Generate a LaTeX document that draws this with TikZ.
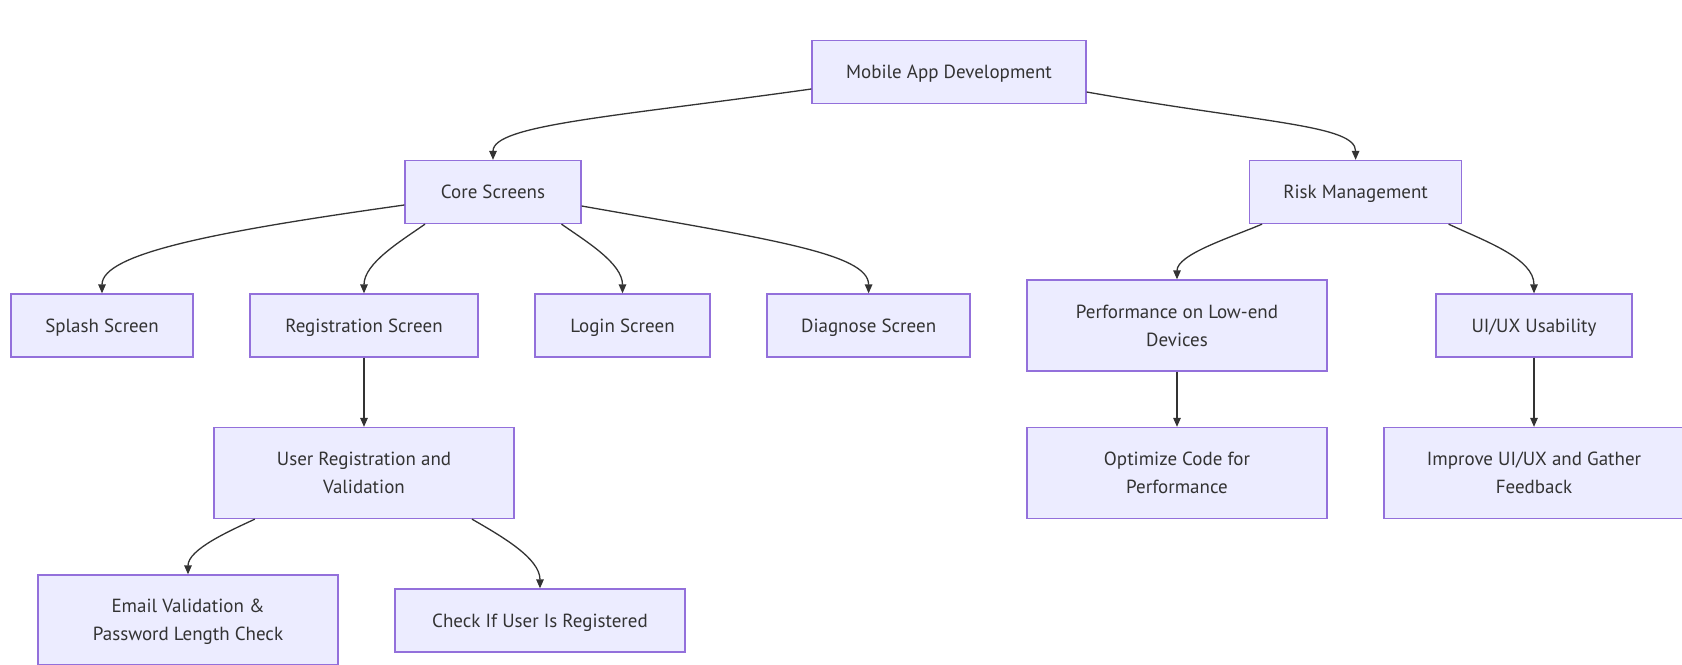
\documentclass[tikz,border=0pt]{standalone}
\usepackage{fontspec}
\setmainfont{PT Sans}
\usetikzlibrary{arrows.meta,calc}
\definecolor{boxfill}{HTML}{ECECFF}
\definecolor{boxline}{HTML}{9370DB}
\definecolor{ink}{HTML}{333333}
% label text with fixed metrics: cap height only, so capitals sit centred
\newcommand{\capht}{\rule{0pt}{13.3bp}}
\newcommand{\oneline}[1]{\smash{#1}\capht}
\newcommand{\twolines}[2]{\vbox{\baselineskip=28bp\lineskiplimit=-100bp
  \halign{\hfil##\hfil\cr\smash{#1}\capht\cr\smash{#2}\cr}}}
\tikzset{
  box/.style={draw=boxline, fill=boxfill, line width=1.3bp, text=ink,
    inner sep=0pt, minimum height=63bp,
    font=\fontsize{19bp}{28bp}\selectfont},
  tall/.style={minimum height=91bp},
  link/.style={draw=ink, line width=1.3bp,
    -{Triangle[length=9bp,width=7.5bp]}},
}
\begin{document}
\begin{tikzpicture}[x=1bp,y=1bp]
\useasboundingbox (0,0) rectangle (1682,-665);
\fill[white] (0,0) rectangle (1682,-665);

% nodes
\node[box, minimum width=274bp] (mob)  at (949,-72)    {\oneline{Mobile App Development}};
\node[box, minimum width=176bp] (core) at (493,-192)   {\oneline{Core Screens}};
\node[box, minimum width=212bp] (risk) at (1355.6,-192){\oneline{Risk Management}};
\node[box, minimum width=182bp] (spl)  at (102,-325.5) {\oneline{Splash Screen}};
\node[box, minimum width=228bp] (reg)  at (364,-325.5) {\oneline{Registration Screen}};
\node[box, minimum width=175bp] (log)  at (622.5,-325.5){\oneline{Login Screen}};
\node[box, minimum width=203bp] (diag) at (868.6,-325.5){\oneline{Diagnose Screen}};
\node[box, tall, minimum width=300bp] (perf) at (1177,-325.5) {\twolines{Performance on Low-end}{Devices}};
\node[box, minimum width=196bp] (ux)   at (1534,-325.5){\oneline{UI/UX Usability}};
\node[box, tall, minimum width=300bp] (urv) at (364,-473) {\twolines{User Registration and}{Validation}};
\node[box, tall, minimum width=300bp] (opt) at (1177,-473) {\twolines{Optimize Code for}{Performance}};
\node[box, tall, minimum width=300bp] (imp) at (1534,-473) {\twolines{Improve UI/UX and Gather}{Feedback}};
\node[box, tall, minimum width=300bp, minimum height=90bp] (email) at (188,-620) {\twolines{Email Validation \&}{Password Length Check}};
\node[box, minimum width=290bp] (chk)  at (540,-620.5) {\oneline{Check If User Is Registered}};

% connectors
\draw[link] ($(mob.west)+(0,-17)$) to[out=188,in=90,out distance=200bp,in distance=35bp] (core.north);
\draw[link] ($(mob.east)+(0,-20)$) to[out=350,in=90,out distance=180bp,in distance=35bp] (risk.north);
\draw[link] ($(core.west)+(0,-13)$) to[out=188,in=90,out distance=190bp,in distance=40bp] (spl.north);
\draw[link] ($(core.south)+(-68,0)$) to[out=215,in=90,out distance=30bp,in distance=30bp] (reg.north);
\draw[link] ($(core.south)+(68.5,0)$) to[out=325,in=90,out distance=30bp,in distance=30bp] (log.north);
\draw[link] ($(core.east)+(0,-14)$) to[out=350,in=90,out distance=190bp,in distance=40bp] (diag.north);
\draw[link] (reg.south) -- (urv.north);
\draw[link] ($(urv.south)+(-109.2,0)$) to[out=205,in=90,out distance=28bp,in distance=25bp] (email.north);
\draw[link] ($(urv.south)+(108,0)$) to[out=330,in=90,out distance=35bp,in distance=30bp] (chk.north);
\draw[link] ($(risk.south)+(-93.6,0)$) to[out=203,in=90,out distance=35bp,in distance=25bp] (perf.north);
\draw[link] ($(risk.south)+(93,0)$) to[out=335,in=90,out distance=40bp,in distance=35bp] (ux.north);
\draw[link] (perf.south) -- (opt.north);
\draw[link] (ux.south) -- (imp.north);
\end{tikzpicture}
\end{document}
